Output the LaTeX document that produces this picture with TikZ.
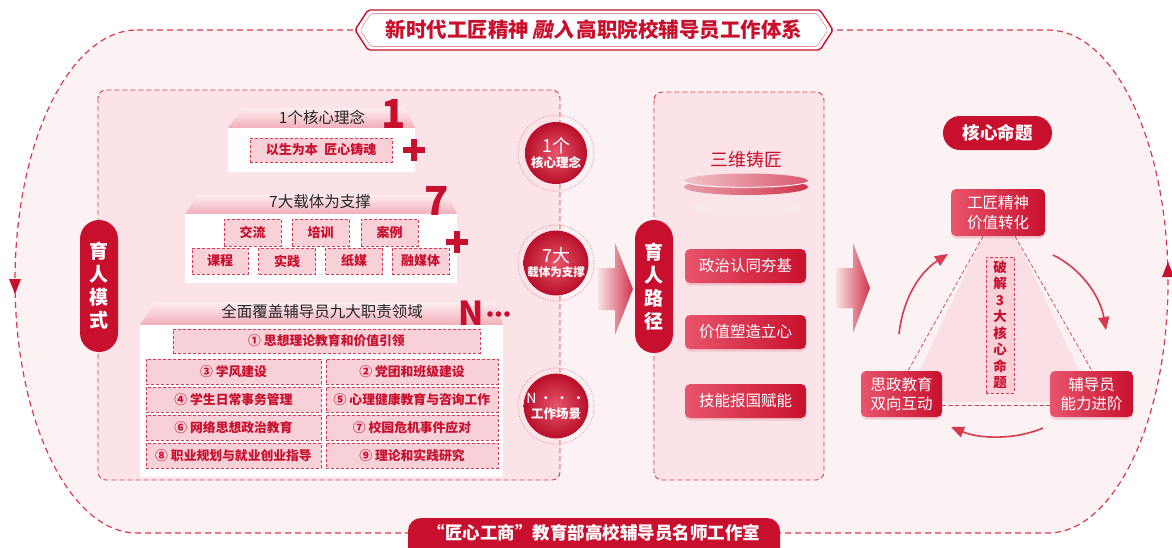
\documentclass[tikz,border=0pt]{standalone}
\usepackage{fontspec}
\setmainfont{Noto Sans CJK SC}
\newfontfamily\cjkslant[FakeSlant=0.22]{Noto Sans CJK SC}
\usetikzlibrary{arrows.meta,calc,shadows}
\definecolor{mred}{HTML}{C8102E}
\definecolor{dred}{HTML}{D63B52}
\definecolor{pinkbg}{HTML}{FCF1F3}
\definecolor{panelbg}{HTML}{FBE3E8}
\definecolor{boxpink}{HTML}{F8D0D8}
\definecolor{lred}{HTML}{E8556C}
\definecolor{hdtop}{HTML}{FDEDF0}
\definecolor{hdbot}{HTML}{F2AEB9}
\definecolor{ringc}{HTML}{E08A98}
\definecolor{trifill}{HTML}{FAE0E5}
\newcommand\fsz[2]{\fontsize{#1}{#2}\selectfont}
\begin{document}
\begin{tikzpicture}[x=1pt,y=-1pt,
  outerdash/.style={draw=dred, line width=1.2pt, dash pattern=on 6pt off 4pt},
  paneldash/.style={draw=dred, line width=0.9pt, dash pattern=on 5pt off 3pt},
  ibox/.style={draw=dred, dash pattern=on 3pt off 2pt, line width=0.8pt, fill=boxpink, text=mred, font=\fsz{13}{15}\bfseries, inner sep=0pt},
  tiertitle/.style={text=black!85, font=\fsz{15.5}{17}, inner sep=0pt},
  bignum/.style={text=mred, font=\fsz{40}{40}\bfseries, inner sep=0pt},
  pill/.style={fill=mred, rounded corners=19pt, text=white, font=\fsz{19}{23}\bfseries, align=center, minimum width=38pt, inner sep=0pt},
  ballnode/.style={circle, minimum size=62pt, inner sep=0pt, inner color=lred, outer color=mred!92!black, text=white, align=center},
  ring/.style={draw=ringc, line width=0.8pt, dash pattern=on 0.8pt off 1.6pt},
  btn/.style={rounded corners=5pt, minimum width=121pt, minimum height=34pt, left color=lred, right color=mred, text=white, font=\fsz{15.5}{18}, inner sep=0pt, drop shadow={shadow xshift=0pt, shadow yshift=-2.5pt, fill=mred!35, opacity=0.5}},
  tnode/.style={rounded corners=5pt, left color=lred, right color=mred, text=white, font=\fsz{15.5}{19.5}, align=center, inner sep=0pt, drop shadow={shadow xshift=0pt, shadow yshift=-2.5pt, fill=mred!35, opacity=0.5}},
  tridash/.style={draw=dred, line width=0.7pt, dash pattern=on 4pt off 2.5pt},
  carrow/.style={draw=dred, line width=1.6pt, -{Triangle[length=13pt,width=11pt]}},
  hdr/.style={top color=hdtop, bottom color=hdbot},
]
\useasboundingbox (0,0) rectangle (1172,547);
\fill[white] (0,0) rectangle (1172,547);

% outer stadium
\path[fill=pinkbg] (137,30) -- (1048,30) arc[start angle=-90,end angle=90,x radius=120,y radius=251.5] -- (137,533) arc[start angle=90,end angle=270,x radius=122,y radius=251.5] -- cycle;
\path[outerdash] (137,30) -- (1048,30) arc[start angle=-90,end angle=90,x radius=120,y radius=251.5] -- (137,533) arc[start angle=90,end angle=270,x radius=122,y radius=251.5] -- cycle;
\fill[mred] (9,279) -- (21,279) -- (15,294) -- cycle;
\fill[mred] (1162,277) -- (1174,277) -- (1168,262) -- cycle;

% title
\draw[mred, line width=1.4pt, fill=white, rounded corners=2pt] (355,30) -- (368,10) -- (820,10) -- (833,30) -- (820,50) -- (368,50) -- cycle;
\draw[mred!45, line width=0.6pt, rounded corners=2pt] (360,30) -- (371,13.5) -- (817,13.5) -- (828,30) -- (817,46.5) -- (371,46.5) -- cycle;
\node[text=mred, font=\fsz{20.5}{22}\bfseries, inner sep=0pt] (title) at (594,30) {新时代工匠精神\,{\cjkslant 融入}\,高职院校辅导员工作体系};

% bottom label
\fill[mred, rounded corners=13pt] (408,518) rectangle (780,562);
\node[text=white, font=\fsz{17.5}{20}\bfseries, inner sep=0pt] (foot) at (594,533) {“匠心工商”教育部高校辅导员名师工作室};

% panels
\path[paneldash, fill=panelbg, rounded corners=8pt] (98,90) rectangle (560,480);
\path[paneldash, fill=panelbg, rounded corners=8pt] (654,92) rectangle (824,480);

\node[pill, minimum height=132pt] (pillA) at (99,286) {育\\人\\模\\式};

% tier 1
\shade[hdr] (228,128) -- (242,108) -- (405,108) -- (415,128) -- cycle;
\fill[white] (228,128) rectangle (415,172);
\node[tiertitle] (t1) at (322,117) {1个核心理念};
\node[bignum] (n1) at (394,114) {1};
\node[ibox, minimum width=142pt, minimum height=24pt] (b1) at (321,150) {以生为本\hspace{0.5em}匠心铸魂};
\fill[mred] (403,147) rectangle (425,153);
\fill[mred] (411,139) rectangle (417,161);

% tier 2
\shade[hdr] (185,214) -- (198,195) -- (447,195) -- (457,214) -- cycle;
\fill[white] (185,214) rectangle (457,283);
\node[tiertitle] (t2) at (320,202) {7大载体为支撑};
\node[bignum] (n7) at (437,201) {7};
\node[ibox, minimum width=57pt, minimum height=27pt] (k1) at (252.5,232.5) {交流};
\node[ibox, minimum width=57pt, minimum height=27pt] (k2) at (320.5,232.5) {培训};
\node[ibox, minimum width=57pt, minimum height=27pt] (k3) at (389.5,232.5) {案例};
\node[ibox, minimum width=56pt, minimum height=26pt] (k4) at (220,261) {课程};
\node[ibox, minimum width=57pt, minimum height=26pt] (k5) at (287,261) {实践};
\node[ibox, minimum width=57pt, minimum height=26pt] (k6) at (354,261) {纸媒};
\node[ibox, minimum width=57pt, minimum height=26pt] (k7) at (420.5,261) {融媒体};
\fill[mred] (446,239) rectangle (468,245);
\fill[mred] (454,231) rectangle (460,253);

% tier 3
\shade[hdr] (140,325) -- (155,302) -- (495,302) -- (503,325) -- cycle;
\fill[white] (140,325) rectangle (503,477);
\node[tiertitle] (t3) at (322,312) {全面覆盖辅导员九大职责领域};
\node[text=mred, font=\fsz{33}{33}\bfseries, inner sep=0pt] (nN) at (471,313) {N};
\fill[mred] (490,314) circle[radius=2.8pt] (498.5,314) circle[radius=2.8pt] (507,314) circle[radius=2.8pt];
\node[ibox, font=\fsz{12.8}{15}\bfseries, minimum width=307pt, minimum height=24pt] (d1) at (326.5,341) {① 思想理论教育和价值引领};
\node[ibox, font=\fsz{12.8}{15}\bfseries, minimum width=175pt, minimum height=25pt] (d3) at (233.5,371.5) {③ 学风建设};
\node[ibox, font=\fsz{12.8}{15}\bfseries, minimum width=172pt, minimum height=25pt] (d2) at (412,371.5) {② 党团和班级建设};
\node[ibox, font=\fsz{12.8}{15}\bfseries, minimum width=175pt, minimum height=25pt] (d4) at (233.5,399.5) {④ 学生日常事务管理};
\node[ibox, font=\fsz{12.8}{15}\bfseries, minimum width=172pt, minimum height=25pt] (d5) at (412,399.5) {⑤ 心理健康教育与咨询工作};
\node[ibox, font=\fsz{12.8}{15}\bfseries, minimum width=175pt, minimum height=25pt] (d6) at (233.5,427.5) {⑥ 网络思想政治教育};
\node[ibox, font=\fsz{12.8}{15}\bfseries, minimum width=172pt, minimum height=25pt] (d7) at (412,427.5) {⑦ 校园危机事件应对};
\node[ibox, font=\fsz{12.8}{15}\bfseries, minimum width=175pt, minimum height=25pt] (d8) at (233.5,455.5) {⑧ 职业规划与就业创业指导};
\node[ibox, font=\fsz{12.8}{15}\bfseries, minimum width=172pt, minimum height=25pt] (d9) at (412,455.5) {⑨ 理论和实践研究};

% circles
\node[ballnode] (c1) at (556,153) {\fsz{18}{18}1个\\[2pt]\fsz{12.5}{14}\bfseries 核心理念};
\node[ballnode] (c2) at (556,263) {\fsz{18}{18}7大\\[2pt]\fsz{11.5}{13}\bfseries 载体为支撑};
\node[ballnode] (c3) at (556,406) {\fsz{14}{16}N\,•\,•\,•\\[3pt]\fsz{12.5}{14}\bfseries 工作场景};
\draw[ring] (c1.center) circle[radius=38pt];
\draw[ring] (c2.center) circle[radius=38pt];
\draw[ring] (c3.center) circle[radius=38pt];

% big arrows
\shade[left color=mred!12, right color=mred!85] (598,268) -- (615,268) -- (615,243) -- (633,289) -- (615,335) -- (615,310) -- (598,310) -- cycle;
\shade[left color=mred!12, right color=mred!85] (836,268) -- (853,268) -- (853,243) -- (870,288) -- (853,333) -- (853,308) -- (836,308) -- cycle;

% middle panel
\node[pill, minimum height=133pt] (pillB) at (654,286.5) {育\\人\\路\\径};
\node[text=mred, font=\fsz{18}{20}, inner sep=0pt] (sw) at (746,160) {三维铸匠};
\fill[mred!10] (746,207) ellipse[x radius=56pt, y radius=10pt];
\shade[left color=mred!40, right color=mred!85] (746,187) ellipse[x radius=62pt, y radius=8pt];
\shade[left color=mred!25, right color=mred!70] (746,181) ellipse[x radius=62pt, y radius=7.5pt];
\draw[white, line width=0.8pt] (684,182) .. controls (700,189) and (790,189) .. (808,182);
\node[btn] (m1) at (745.5,266) {政治认同夯基};
\node[btn] (m2) at (745.5,332) {价值塑造立心};
\node[btn] (m3) at (745.5,401) {技能报国赋能};

% right panel
\node[fill=mred, rounded corners=17pt, minimum width=109pt, minimum height=34pt, text=white, font=\fsz{17.5}{20}\bfseries, inner sep=0pt] (core) at (997.5,133) {核心命题};
\fill[trifill] (983,236) -- (1015,236) -- (1094,402) -- (905,402) -- cycle;
\node[tnode, minimum width=94pt, minimum height=47pt] (top) at (998,212.5) {工匠精神\\价值转化};
\node[tnode, minimum width=81pt, minimum height=46pt] (lft) at (901.5,394) {思政教育\\双向互动};
\node[tnode, minimum width=83pt, minimum height=46pt] (rgt) at (1091.5,394) {辅导员\\能力进阶};
\draw[tridash] ($(top.south)+(-15,0)$) -- ($(lft.north)+(6.5,0)$);
\draw[tridash] ($(top.south)+(17,0)$) -- ($(rgt.north)+(0.5,0)$);
\draw[tridash] ($(lft.east)+(0,11)$) -- ($(rgt.west)+(0,11)$);
\node[ibox, font=\fsz{13.5}{16.5}\bfseries, align=center, minimum width=28pt, minimum height=136pt] (crack) at (1000,325) {破\\解\\3\\大\\核\\心\\命\\题};
\coordinate (la1) at (899,334); \coordinate (la2) at (948,254);
\coordinate (ra1) at (1053,255); \coordinate (ra2) at (1106,330);
\coordinate (ba1) at (1043,428); \coordinate (ba2) at (951,427);
\draw[carrow] (la1) .. controls (903,298) and (920,272) .. (la2);
\draw[carrow] (ra1) .. controls (1080,268) and (1100,295) .. (ra2);
\draw[carrow] (ba1) .. controls (1015,440) and (980,439) .. (ba2);
\end{tikzpicture}
\end{document}
